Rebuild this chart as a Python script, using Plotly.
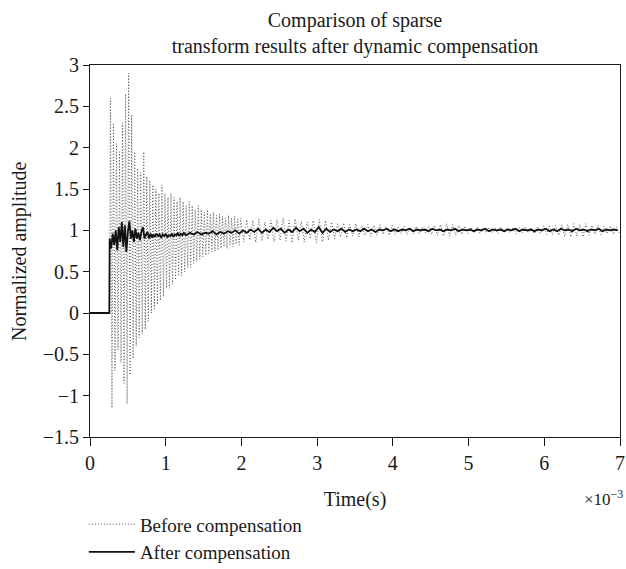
import numpy as np
import plotly.graph_objects as go

# ---- data (time in units of 1e-3 s) ----
before_zero_t = [0.0, 0.26]
before_zero_v = [0.0, 0.0]

before_seg1_start, before_seg1_step = 0.27, 0.02
before_seg1_v = [
    2.60, -1.15, 2.30, -0.70, 2.05, -0.45, 1.95, -0.60, 2.30, -0.85,
    2.65, -1.10, 2.90, -0.75, 2.40, -0.55, 1.95, -0.40, 1.75, -0.30,
    1.70, -0.25, 1.95, -0.20, 1.65, -0.10, 1.60, 0.00, 1.55, 0.05,
    1.50, 0.10, 1.45, 0.15, 1.55, 0.20, 1.45, 0.30, 1.40, 0.30,
    1.45, 0.35, 1.40, 0.40, 1.35, 0.45, 1.40, 0.45, 1.35, 0.50,
    1.30, 0.55, 1.35, 0.55, 1.30, 0.60, 1.25, 0.62, 1.30, 0.65,
    1.25, 0.68, 1.22, 0.70, 1.25, 0.72, 1.20, 0.74, 1.22, 0.75,
    1.18, 0.76, 1.20, 0.78, 1.17, 0.80, 1.15, 0.78, 1.18, 0.82,
    1.15, 0.80, 1.17, 0.83, 1.14, 0.82, 1.15,
]

before_seg2_start, before_seg2_step = 2.03, 0.04
before_seg2_v = [
    0.86, 1.13, 0.88, 1.12, 0.85, 1.14, 0.87, 1.10, 0.89, 1.12,
    0.86, 1.13, 0.88, 1.15, 0.87, 1.12, 0.85, 1.14, 0.88, 1.11,
    0.86, 1.10, 0.90, 1.12, 0.85, 1.13, 0.86, 1.12, 0.88, 1.10,
    0.90, 1.08, 0.92, 1.09, 0.91, 1.07, 0.93, 1.08, 0.92, 1.06,
    0.94, 1.07, 0.93, 1.06, 0.94, 1.07, 0.95, 1.05, 0.94, 1.06,
    0.95, 1.04, 0.96, 1.05, 0.95, 1.04, 0.96, 1.05, 0.96, 1.04,
    0.97, 1.05, 0.95, 1.06, 0.94, 1.07, 0.93, 1.08, 0.93, 1.07,
    0.94, 1.06, 0.95, 1.05, 0.96, 1.04, 0.97, 1.04, 0.96, 1.03,
    0.97, 1.04, 0.97, 1.03, 0.96, 1.04, 0.97, 1.03, 0.97, 1.04,
    0.96, 1.03, 0.97, 1.04, 0.97, 1.03, 0.96, 1.04, 0.96, 1.05,
    0.95, 1.05, 0.95, 1.06, 0.94, 1.07, 0.93, 1.07, 0.92, 1.08,
    0.93, 1.07, 0.92, 1.08, 0.94, 1.06, 0.95, 1.06, 0.95, 1.05,
    0.96, 1.05, 0.95, 1.04, 0.97,
]

after_zero_t = [0.0, 0.255]
after_zero_v = [0.0, 0.0]

after_seg1_start, after_seg1_step = 0.26, 0.02
after_seg1_v = [
    0.90, 0.78, 0.96, 0.82, 1.00, 0.76, 1.04, 0.86, 1.10, 0.80,
    1.06, 0.74, 0.98, 1.11, 0.90, 1.00, 0.86, 1.02, 0.90, 0.97,
    0.88, 0.99, 1.04, 0.90, 0.95, 0.98, 0.90, 0.96, 0.91, 0.95,
    0.92, 0.96, 0.93, 0.95, 0.91, 0.95, 0.93, 0.96, 0.92, 0.94,
    0.93, 0.96, 0.92, 0.95, 0.94, 0.97, 0.93, 0.96, 0.94, 0.97,
]

after_seg2_start, after_seg2_step = 1.27, 0.05
after_seg2_v = [
    0.94, 0.97, 0.95, 0.98, 0.95, 0.97, 0.96, 0.99, 0.95, 0.98,
    0.96, 0.99, 0.97, 1.00, 0.96, 1.00, 0.97, 1.01, 0.98, 1.02,
    0.97, 1.01, 0.98, 1.03, 0.99, 1.02, 0.97, 1.01, 0.98, 1.03,
    0.99, 1.02, 0.97, 1.01, 0.98, 1.04, 0.97, 1.02, 0.98, 1.01,
    0.99, 1.02, 0.98, 1.01, 0.99, 1.01, 0.99, 1.02, 0.99, 1.01,
    0.98, 1.01, 1.00, 1.02, 0.99, 1.01, 0.99, 1.01, 1.00, 1.02,
    0.99, 1.01, 1.00, 1.01, 0.99, 1.02, 1.00, 1.01, 0.99, 1.01,
    1.00, 1.02, 0.99, 1.01, 1.00, 1.01, 0.99, 1.01, 1.00, 1.02,
    0.99, 1.01, 1.00, 1.01, 0.99, 1.01, 1.00, 1.02, 0.99, 1.01,
    1.00, 1.01, 0.99, 1.01, 1.00, 1.02, 0.99, 1.01, 0.99, 1.02,
    1.00, 1.01, 0.99, 1.02, 1.00, 1.01, 0.99, 1.01, 1.00, 1.02,
    0.99, 1.01, 1.00, 1.01, 1.00,
]

x_ticks = [0, 1, 2, 3, 4, 5, 6, 7]
y_ticks = [-1.5, -1, -0.5, 0, 0.5, 1, 1.5, 2, 2.5, 3]
y_tick_text = ["\u22121.5", "\u22121", "\u22120.5", "0", "0.5", "1", "1.5", "2", "2.5", "3"]


def seg_t(start, step, vals):
    return list(start + step * np.arange(len(vals)))


before_t = before_zero_t + seg_t(before_seg1_start, before_seg1_step, before_seg1_v) \
    + seg_t(before_seg2_start, before_seg2_step, before_seg2_v)
before_v = before_zero_v + before_seg1_v + before_seg2_v
after_t = after_zero_t + seg_t(after_seg1_start, after_seg1_step, after_seg1_v) \
    + seg_t(after_seg2_start, after_seg2_step, after_seg2_v)
after_v = after_zero_v + after_seg1_v + after_seg2_v

FONT = "Liberation Serif, Times New Roman, serif"
FS = 20
INK = "#1a1a1a"

fig = go.Figure()
fig.add_trace(go.Scatter(x=before_t, y=before_v, mode="lines", name="Before compensation",
                         line=dict(color="#5a5a5a", width=1, dash="1px,2px")))
fig.add_trace(go.Scatter(x=after_t, y=after_v, mode="lines", name="After compensation",
                         line=dict(color="#111111", width=1.8)))

fig.update_layout(
    width=626, height=569,
    paper_bgcolor="white", plot_bgcolor="white",
    margin=dict(l=90, r=6, t=65, b=132, autoexpand=False),
    font=dict(family=FONT, size=FS, color=INK),
    title=dict(text="Comparison of sparse<br>transform results after dynamic compensation",
               xref="paper", x=0.5, xanchor="center", y=0.952, yanchor="top",
               font=dict(family=FONT, size=FS, color=INK)),
    showlegend=True,
    legend=dict(xref="container", yref="container", x=0.134, xanchor="left",
                y=0.112, yanchor="top",
                bgcolor="rgba(0,0,0,0)", font=dict(family=FONT, size=19, color=INK),
                itemwidth=46, tracegroupgap=0),
    xaxis=dict(range=[0, 7], tickvals=x_ticks, ticks="outside", ticklen=8,
               tickcolor=INK, showline=True, linecolor=INK, linewidth=1,
               mirror=True, showgrid=False, zeroline=False,
               title=dict(text="Time(s)", standoff=18, font=dict(family=FONT, size=FS, color=INK)),
               tickfont=dict(family=FONT, size=FS, color=INK)),
    yaxis=dict(range=[-1.5, 3], tickvals=y_ticks, ticktext=y_tick_text,
               ticks="outside", ticklen=6,
               tickcolor=INK, showline=True, linecolor=INK, linewidth=1,
               mirror=True, showgrid=False, zeroline=False,
               tickfont=dict(family=FONT, size=FS, color=INK)),
)
fig.add_annotation(text="Normalized amplitude", xref="paper", yref="paper",
                   x=-0.134, y=0.5, xanchor="center", yanchor="middle", textangle=-90,
                   showarrow=False, font=dict(family=FONT, size=FS, color=INK))
fig.add_annotation(text="\u00d710<sup>\u22123</sup>", xref="paper", yref="paper",
                   x=1.01, y=-0.13, xanchor="right", yanchor="top", showarrow=False,
                   font=dict(family=FONT, size=17, color=INK))

fig.write_html("out.html")
